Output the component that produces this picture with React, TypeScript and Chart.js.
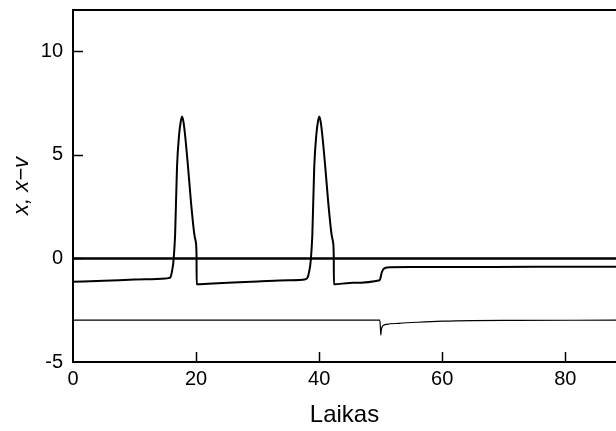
import React, { useEffect, useRef } from "react";
import { Chart, registerables } from "chart.js";

Chart.register(...registerables);

// x (spiking) series
const spikeTime = [
  0, 5, 10, 15, 15.5, 15.85, 16.1, 16.3, 16.5, 16.6, 16.9, 17.25, 17.5, 17.72, 17.95, 18.2, 18.7, 19.15, 19.7, 19.95, 20.07, 20.1,
  22, 26, 30, 35, 37.8, 38.15, 38.4, 38.6, 38.8, 38.9, 39.2, 39.55, 39.8, 40.02, 40.25, 40.5, 41.0, 41.45, 42.0, 42.25, 42.37, 42.4,
  45, 49.85, 50.0, 50.15, 50.4, 50.8, 51.5, 55, 65, 75, 89,
];
const spikeValue = [
  -1.13, -1.08, -1.02, -0.97, -0.95, -0.9, -0.6, -0.2, 0.6, 1.2, 4.4, 6.0, 6.6, 6.86, 6.6, 6.0, 4.4, 2.8, 1.2, 0.8, 0.2, -1.25,
  -1.22, -1.16, -1.11, -1.05, -1.0, -0.9, -0.6, -0.2, 0.6, 1.2, 4.4, 6.0, 6.6, 6.86, 6.6, 6.0, 4.4, 2.8, 1.2, 0.8, 0.2, -1.25,
  -1.18, -1.05, -0.9, -0.7, -0.53, -0.45, -0.42, -0.415, -0.41, -0.405, -0.4,
];

// x − v series
const diffTime = [0, 25, 49.85, 49.95, 50.02, 50.1, 50.25, 50.5, 51, 53, 56, 60, 65, 72, 89];
const diffValue = [-2.98, -2.98, -2.98, -3.3, -3.7, -3.45, -3.3, -3.22, -3.18, -3.13, -3.08, -3.03, -3.0, -2.99, -2.98];

// zero line
const zeroTime = [0, 89];
const zeroValue = [0, 0];

const xTicks = [0, 20, 40, 60, 80];
const yTicks = [-5, 0, 5, 10];

const toPoints = (xs: number[], ys: number[]) => xs.map((x, i) => ({ x, y: ys[i] }));

const frame = {
  id: "frame",
  afterDraw(chart: any) {
    const { ctx, chartArea, scales } = chart;
    ctx.save();
    ctx.strokeStyle = "#000";
    ctx.lineWidth = 2;
    ctx.beginPath();
    ctx.moveTo(chartArea.left - 1, chartArea.top);
    ctx.lineTo(chartArea.right + 2, chartArea.top);
    ctx.stroke();
    ctx.lineWidth = 1.5;
    ctx.beginPath();
    for (const v of xTicks) {
      if (v === 0) continue;
      const px = Math.round(scales.x.getPixelForValue(v)) + 0.5;
      ctx.moveTo(px, chartArea.bottom);
      ctx.lineTo(px, chartArea.bottom - 10);
    }
    for (const v of yTicks) {
      if (v === -5) continue;
      const py = Math.round(scales.y.getPixelForValue(v)) + 0.5;
      ctx.moveTo(chartArea.left, py);
      ctx.lineTo(chartArea.left + 10, py);
    }
    ctx.stroke();
    ctx.restore();
  },
};

export default function App() {
  const ref = useRef<HTMLCanvasElement>(null);
  useEffect(() => {
    if (!ref.current) return;
    const font = "'Liberation Sans', Arial, sans-serif";
    const chart = new Chart(ref.current, {
      type: "line",
      data: {
        datasets: [
          {
            label: "0",
            data: toPoints(zeroTime, zeroValue),
            borderColor: "#000",
            borderWidth: 2.5,
            pointRadius: 0,
            tension: 0,
          },
          {
            label: "x",
            data: toPoints(spikeTime, spikeValue),
            borderColor: "#000",
            borderWidth: 2,
            pointRadius: 0,
            cubicInterpolationMode: "monotone",
          },
          {
            label: "x−v",
            data: toPoints(diffTime, diffValue),
            borderColor: "#000",
            borderWidth: 1.2,
            pointRadius: 0,
            cubicInterpolationMode: "monotone",
          },
        ],
      },
      options: {
        animation: false,
        responsive: false,
        devicePixelRatio: 1,
        layout: { padding: { top: 10, left: 0, right: 0, bottom: 0 } },
        plugins: { legend: { display: false }, tooltip: { enabled: false } },
        scales: {
          x: {
            type: "linear",
            min: 0,
            max: 88.24,
            afterBuildTicks: (s: any) => {
              s.ticks = xTicks.map((value) => ({ value }));
            },
            afterFit: (s: any) => {
              s.height = 69;
              s.paddingLeft = 0;
              s.paddingRight = 0;
            },
            grid: { display: false, drawTicks: false },
            border: { display: true, color: "#000", width: 2 },
            ticks: {
              color: "#000",
              padding: 5,
              maxRotation: 0,
              font: { family: font, size: 20 },
              callback: (v: any) => String(v),
            },
            title: {
              display: true,
              text: "Laikas",
              color: "#000",
              font: { family: font, size: 24 },
              padding: { top: 0, bottom: 1 },
            },
          },
          y: {
            type: "linear",
            min: -5,
            max: 12,
            afterBuildTicks: (s: any) => {
              s.ticks = yTicks.map((value) => ({ value }));
            },
            afterFit: (s: any) => {
              s.width = 73;
              s.paddingTop = 0;
              s.paddingBottom = 0;
            },
            grid: { display: false, drawTicks: false },
            border: { display: true, color: "#000", width: 2 },
            ticks: {
              color: "#000",
              padding: 10,
              font: { family: font, size: 20 },
              callback: (v: any) => String(v),
            },
            title: {
              display: true,
              text: "x, x−v",
              color: "#000",
              font: { family: font, size: 22, style: "italic" },
              padding: { top: 9, bottom: 0 },
            },
          },
        },
      },
      plugins: [frame],
    });
    return () => chart.destroy();
  }, []);
  return (
    <div style={{ position: "fixed", left: 0, top: 0, width: 616, height: 431, background: "#fff" }}>
      <canvas ref={ref} width={616} height={431} style={{ display: "block" }} />
    </div>
  );
}
